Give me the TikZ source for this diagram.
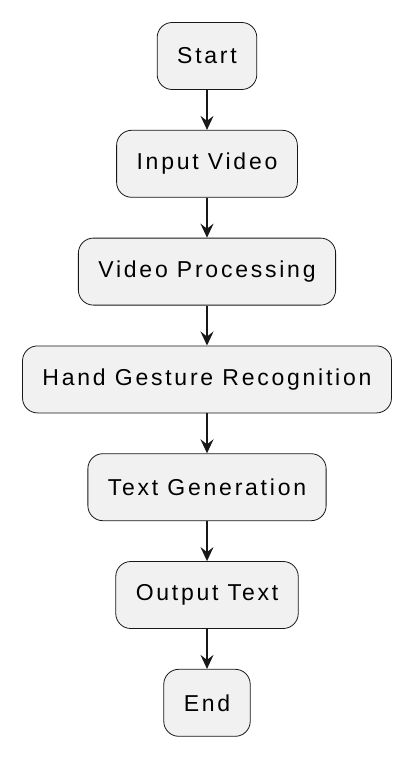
\documentclass[tikz,border=0pt]{standalone}
\usepackage{fontspec}
\setmainfont[LetterSpace=12]{Liberation Sans}
\usepackage{tikz}
\usetikzlibrary{positioning,arrows.meta}
\definecolor{boxfill}{HTML}{F1F1F1}
\definecolor{boxline}{HTML}{181818}

\begin{document}
\begin{tikzpicture}[
        stepbox/.style={draw=boxline, fill=boxfill, line width=0.8pt,
            rounded corners=15pt, minimum height=67pt, inner xsep=20pt,
            font=\fontsize{23}{27}\selectfont},
        flow/.style={-{Stealth[length=14pt, width=13pt, inset=5pt]}, line width=1.5pt, draw=boxline},
        node distance=40pt
    ]
        \useasboundingbox (0,0) rectangle (414pt,-758pt);

        \node[stepbox] (start) at (207pt,-56pt) {Start};
        \node[stepbox, below=of start] (input) {Input Video};
        \node[stepbox, below=of input] (proc) {Video Processing};
        \node[stepbox, below=of proc] (hand) {Hand Gesture Recognition};
        \node[stepbox, below=of hand] (textgen) {Text Generation};
        \node[stepbox, below=of textgen] (output) {Output Text};
        \node[stepbox, below=of output] (end) {End};

        \foreach \a/\b in {start/input, input/proc, proc/hand, hand/textgen, textgen/output, output/end}
            \draw[flow] (\a) -- (\b);

    \end{tikzpicture}
\end{document}
